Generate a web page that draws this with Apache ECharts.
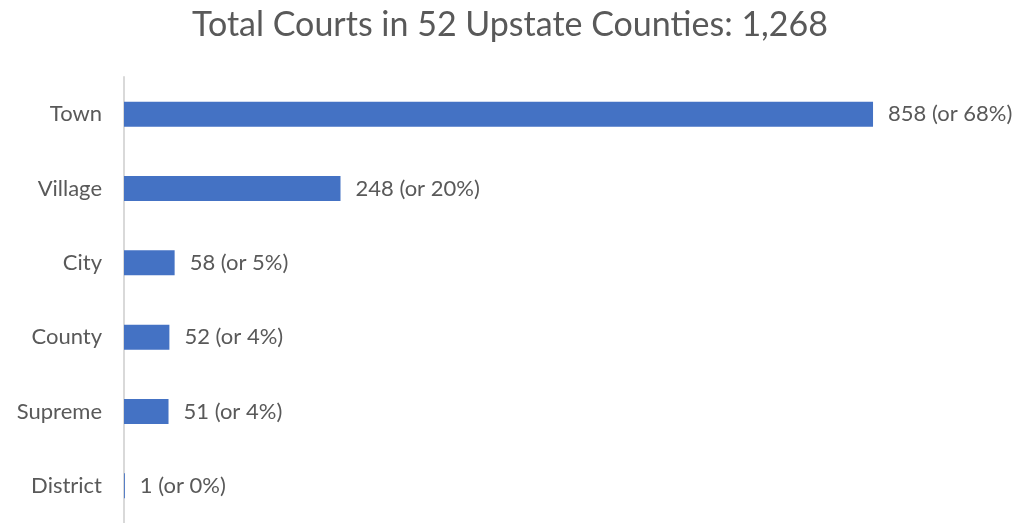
<!DOCTYPE html>
<html>
<head>
<meta charset="utf-8">
<script src="https://cdn.jsdelivr.net/npm/echarts@6/dist/echarts.min.js"></script>
<style>
  html, body { margin: 0; padding: 0; background: #ffffff; }
  #chart { width: 1020px; height: 523px; }
</style>
</head>
<body>
<div id="chart"></div>
<script>
// Court types, top to bottom
const categories = ['Town', 'Village', 'City', 'County', 'Supreme', 'District'];
// Number of courts of each type
const courtCounts = [858, 248, 58, 52, 51, 1];
// Share of the 1,268 total, as printed
const sharePercent = [68, 20, 5, 4, 4, 0];

const chart = echarts.init(document.getElementById('chart'));
const fontFamily = 'Lato, "Open Sans", sans-serif';

chart.setOption({
  backgroundColor: '#ffffff',
  animation: false,
  title: {
    text: 'Total Courts in 52 Upstate Counties: 1,268',
    left: 'center',
    top: 3,
    textStyle: { color: '#595959', fontSize: 34, fontWeight: 'normal', fontFamily: fontFamily }
  },
  grid: { left: 124, top: 77, width: 873, height: 450, containLabel: false },
  xAxis: {
    type: 'value',
    min: 0,
    max: 1000,
    show: false
  },
  yAxis: {
    type: 'category',
    inverse: true,
    data: categories,
    axisLine: { show: true, lineStyle: { color: '#d9d9d9', width: 2 } },
    axisTick: { show: false },
    axisLabel: { color: '#595959', fontSize: 22, fontFamily: fontFamily, margin: 22 }
  },
  series: [{
    type: 'bar',
    data: courtCounts,
    barWidth: 25,
    itemStyle: { color: '#4472c4' },
    label: {
      show: true,
      position: 'right',
      distance: 15,
      color: '#595959',
      fontSize: 22,
      fontFamily: fontFamily,
      formatter: p => p.value + ' (or ' + sharePercent[p.dataIndex] + '%)'
    }
  }]
});
</script>
</body>
</html>
